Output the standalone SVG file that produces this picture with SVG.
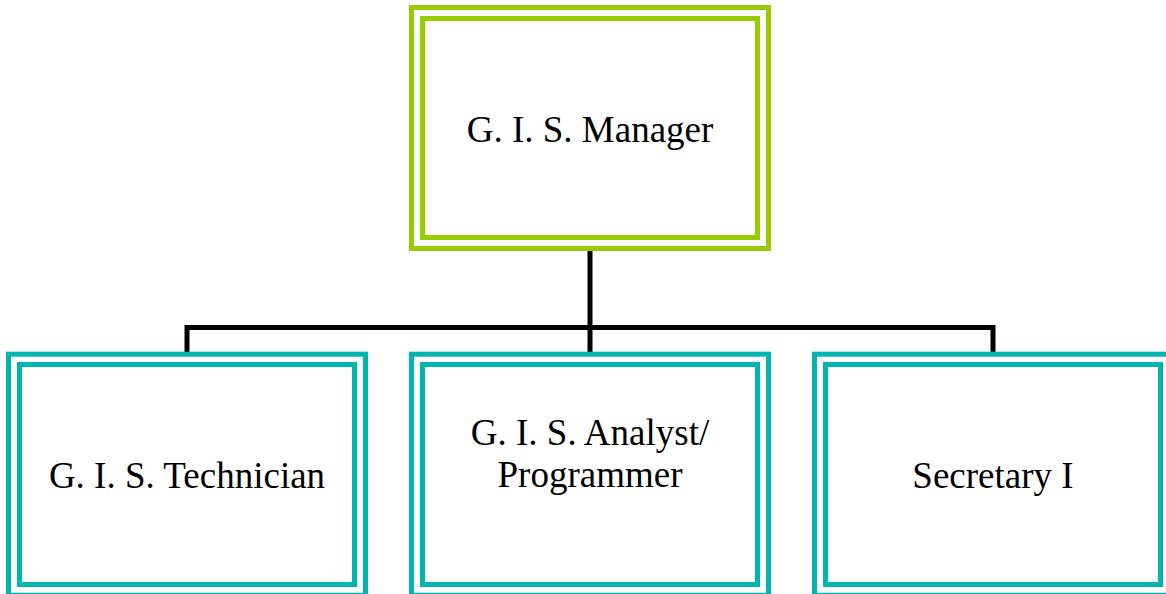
<svg xmlns="http://www.w3.org/2000/svg" width="1166" height="594" viewBox="0 0 1166 594">
  <style>
    .frame { fill: #ffffff; stroke-width: 5; }
    .inner { fill: none; stroke-width: 5; }
    .green { stroke: #99cc00; }
    .teal { stroke: #00b5b0; }
    .label { font-family: "Liberation Serif", "Times New Roman", serif; font-size: 37px; fill: #000000; text-anchor: middle; }
    .wire { fill: none; stroke: #000000; stroke-width: 5; stroke-linejoin: miter; stroke-linecap: butt; }
  </style>
  <rect width="1166" height="594" fill="#ffffff"/>

  <g id="connectors">
    <path class="wire" d="M590,251 V352"/>
    <path class="wire" d="M187,352 V327.5 H993 V352"/>
  </g>

  <g id="manager">
    <rect class="frame green" x="411.5" y="7.5" width="357" height="241"/>
    <rect class="inner green" x="422.5" y="18.5" width="335" height="219"/>
    <text class="label" x="590" y="142">G. I. S. Manager</text>
  </g>

  <g id="technician">
    <rect class="frame teal" x="8.5" y="354.2" width="357" height="241"/>
    <rect class="inner teal" x="19.5" y="364.5" width="335" height="220"/>
    <text class="label" x="187" y="488">G. I. S. Technician</text>
  </g>

  <g id="analyst">
    <rect class="frame teal" x="411.5" y="354.2" width="357" height="241"/>
    <rect class="inner teal" x="422.5" y="364.5" width="335" height="220"/>
    <text class="label" x="590" y="445">G. I. S. Analyst/</text>
    <text class="label" x="590" y="487">Programmer</text>
  </g>

  <g id="secretary">
    <rect class="frame teal" x="814.5" y="354.2" width="357" height="241"/>
    <rect class="inner teal" x="825.5" y="364.5" width="335" height="220"/>
    <text class="label" x="993" y="488">Secretary I</text>
  </g>
</svg>
